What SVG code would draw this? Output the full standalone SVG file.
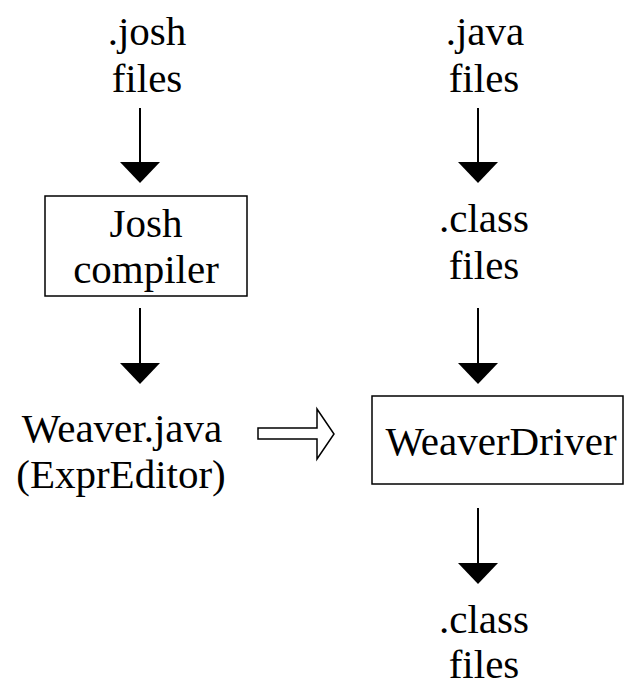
<svg xmlns="http://www.w3.org/2000/svg" xmlns:xlink="http://www.w3.org/1999/xlink" width="626" height="688" viewBox="0 0 626 688">
  <style>
    text { font-family: "Liberation Serif", "Times New Roman", serif; font-size: 41px; fill: #000; text-anchor: middle; }
    .box { fill: #fff; stroke: #000; stroke-width: 1.5; }
    .line { stroke: #000; stroke-width: 2; fill: none; }
    .head { fill: #000; stroke: none; }
    .hollow { fill: #fff; stroke: #000; stroke-width: 1.5; stroke-linejoin: miter; }
  </style>
  <defs>
    <polygon id="ah" class="head" points="-20,0 20,0 0,21"/>
  </defs>
  <rect width="626" height="688" fill="#fff"/>

  <g id="josh-files">
    <text x="147" y="45">.josh</text>
    <text x="147" y="92">files</text>
  </g>
  <g id="josh-compiler">
    <rect class="box" x="45" y="196" width="202" height="100"/>
    <text x="146" y="237">Josh</text>
    <text x="146" y="283">compiler</text>
  </g>
  <g id="weaver-java">
    <text x="122" y="442">Weaver.java</text>
    <text x="121" y="488">(ExprEditor)</text>
  </g>
  <g id="java-files">
    <text x="485" y="45">.java</text>
    <text x="484" y="92">files</text>
  </g>
  <g id="class-files-1">
    <text x="484" y="232">.class</text>
    <text x="484" y="279">files</text>
  </g>
  <g id="weaver-driver">
    <rect class="box" x="372" y="396" width="251" height="88"/>
    <text x="501" y="455">WeaverDriver</text>
  </g>
  <g id="class-files-2">
    <text x="484" y="633">.class</text>
    <text x="484" y="678">files</text>
  </g>

  <g id="connectors">
    <line class="line" x1="140" y1="108" x2="140" y2="163"/>
    <use xlink:href="#ah" x="140" y="162"/>
    <line class="line" x1="140" y1="308" x2="140" y2="364"/>
    <use xlink:href="#ah" x="140" y="363"/>
    <line class="line" x1="478" y1="108" x2="478" y2="163"/>
    <use xlink:href="#ah" x="478" y="162"/>
    <line class="line" x1="478" y1="308" x2="478" y2="364"/>
    <use xlink:href="#ah" x="478" y="363"/>
    <line class="line" x1="478" y1="508" x2="478" y2="564"/>
    <use xlink:href="#ah" x="478" y="563"/>
    <polygon class="hollow" points="258,428 317,428 317,409 334,434 317,459 317,439 258,439"/>
  </g>
</svg>
